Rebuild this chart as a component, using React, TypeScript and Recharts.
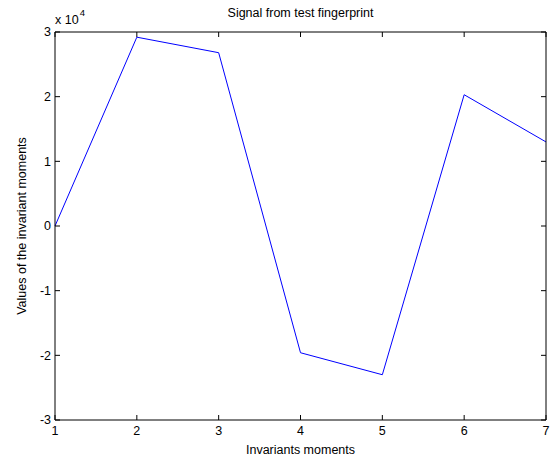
import { LineChart, Line, XAxis, YAxis, Label } from 'recharts';

const moments = [1, 2, 3, 4, 5, 6, 7];
const values = [0, 29200, 26800, -19600, -23000, 20300, 13000];
const yTicks = [-30000, -20000, -10000, 0, 10000, 20000, 30000];

const data = moments.map((m, i) => ({ m, v: values[i] }));

const FONT = 'Arial, "Liberation Sans", Helvetica, sans-serif';
const FS = 12.5;
const TICK = 5;

const BottomTick = (props: any) => {
  const { x, y, payload } = props;
  const axisY = y - 6;
  return (
    <g>
      <line x1={x} y1={axisY} x2={x} y2={axisY - TICK} stroke="#000" />
      <text x={x} y={y} dy="0.71em" textAnchor="middle" fontSize={FS} fontFamily={FONT} fill="#000">
        {payload.value}
      </text>
    </g>
  );
};

const LeftTick = (props: any) => {
  const { x, y, payload } = props;
  const axisX = x + 4;
  return (
    <g>
      <line x1={axisX} y1={y} x2={axisX + TICK} y2={y} stroke="#000" />
      <text x={x} y={y} dy="0.35em" textAnchor="end" fontSize={FS} fontFamily={FONT} fill="#000">
        {payload.value / 10000}
      </text>
    </g>
  );
};

const TopTick = (props: any) => {
  const { x, y } = props;
  return <line x1={x} y1={y} x2={x} y2={y + TICK} stroke="#000" />;
};

const RightTick = (props: any) => {
  const { x, y } = props;
  return <line x1={x} y1={y} x2={x - TICK} y2={y} stroke="#000" />;
};

export default function App() {
  return (
    <div style={{ position: 'absolute', left: 0, top: 0, background: '#fff' }}>
      <LineChart width={552} height={461} data={data} margin={{ top: 31, right: 5, bottom: 0, left: 0 }}>
        <XAxis
          dataKey="m"
          type="number"
          domain={[1, 7]}
          ticks={moments}
          height={41}
          tickSize={0}
          tickMargin={6}
          tickLine={false}
          axisLine={{ stroke: '#000' }}
          tick={<BottomTick />}
        >
          <Label
            content={({ viewBox }: any) => (
              <text
                x={viewBox.x + viewBox.width / 2}
                y={viewBox.y + 34}
                textAnchor="middle"
                fontSize={FS}
                fontFamily={FONT}
                fill="#000"
              >
                Invariants moments
              </text>
            )}
          />
        </XAxis>
        <XAxis
          xAxisId="top"
          dataKey="m"
          type="number"
          orientation="top"
          domain={[1, 7]}
          ticks={moments}
          height={1}
          tickSize={0}
          tickMargin={0}
          tickLine={false}
          axisLine={{ stroke: '#000' }}
          tick={<TopTick />}
        >
          <Label
            content={({ viewBox }: any) => (
              <text
                x={viewBox.x + viewBox.width / 2}
                y={viewBox.y - 14}
                textAnchor="middle"
                fontSize={FS}
                fontFamily={FONT}
                fill="#000"
              >
                Signal from test fingerprint
              </text>
            )}
          />
        </XAxis>
        <YAxis
          type="number"
          domain={[-30000, 30000]}
          ticks={yTicks}
          width={55}
          tickSize={0}
          tickMargin={4}
          tickLine={false}
          axisLine={{ stroke: '#000' }}
          tick={<LeftTick />}
        >
          <Label
            content={({ viewBox }: any) => {
              const cx = 22;
              const cy = viewBox.y + viewBox.height / 2;
              return (
                <text
                  x={cx}
                  y={cy}
                  transform={`rotate(-90 ${cx} ${cy})`}
                  textAnchor="middle"
                  dominantBaseline="central"
                  fontSize={FS}
                  fontFamily={FONT}
                  fill="#000"
                >
                  Values of the invariant moments
                </text>
              );
            }}
          />
          <Label
            content={() => (
              <text x={55} y={24} fontSize={FS} fontFamily={FONT} fill="#000">
                x 10
                <tspan dx={1} dy={-8} fontSize={9.5}>
                  4
                </tspan>
              </text>
            )}
          />
        </YAxis>
        <YAxis
          yAxisId="right"
          type="number"
          orientation="right"
          domain={[-30000, 30000]}
          ticks={yTicks}
          width={1}
          tickSize={0}
          tickMargin={0}
          tickLine={false}
          axisLine={{ stroke: '#000' }}
          tick={<RightTick />}
        />
        <Line
          xAxisId="top"
          yAxisId="right"
          type="linear"
          dataKey="v"
          stroke="none"
          dot={false}
          legendType="none"
          isAnimationActive={false}
        />
        <Line
          type="linear"
          dataKey="v"
          stroke="#0000ff"
          strokeWidth={1}
          dot={false}
          isAnimationActive={false}
        />
      </LineChart>
    </div>
  );
}
